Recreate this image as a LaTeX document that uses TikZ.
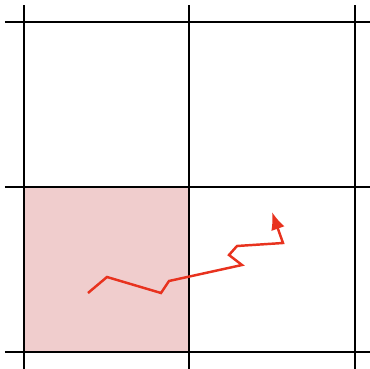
\documentclass[tikz,border=0pt]{standalone}
\usetikzlibrary{arrows.meta}
\definecolor{rosa}{HTML}{F0CDCD}
\definecolor{rosso}{HTML}{E8321E}
\definecolor{bordo}{HTML}{8E2A2A}
\begin{document}
\begin{tikzpicture}[x=0.02cm,y=-0.02cm]
        \useasboundingbox (0,0) rectangle (370,369);
        % Cella
        \fill [rosa] (24,187) rectangle (189,352);
        \draw [bordo,line width=1.2pt] (24,187) rectangle (189,352);
        % Griglia
        \foreach \x in {24,189,355}
            \draw [line width=1pt] (\x,5) -- (\x,369);
        \foreach \y in {22,187,352}
            \draw [line width=1pt] (5,\y) -- (370,\y);
        % Cammino
        \draw [rosso,line width=1.4pt,-{Latex[length=10pt,width=8pt]}] (88,293) -- (107,277) -- (161,293) -- (169,281)
            -- (242,265) -- (229,255) -- (237,246) -- (283,243) -- (272,212);
    \end{tikzpicture}
\end{document}
